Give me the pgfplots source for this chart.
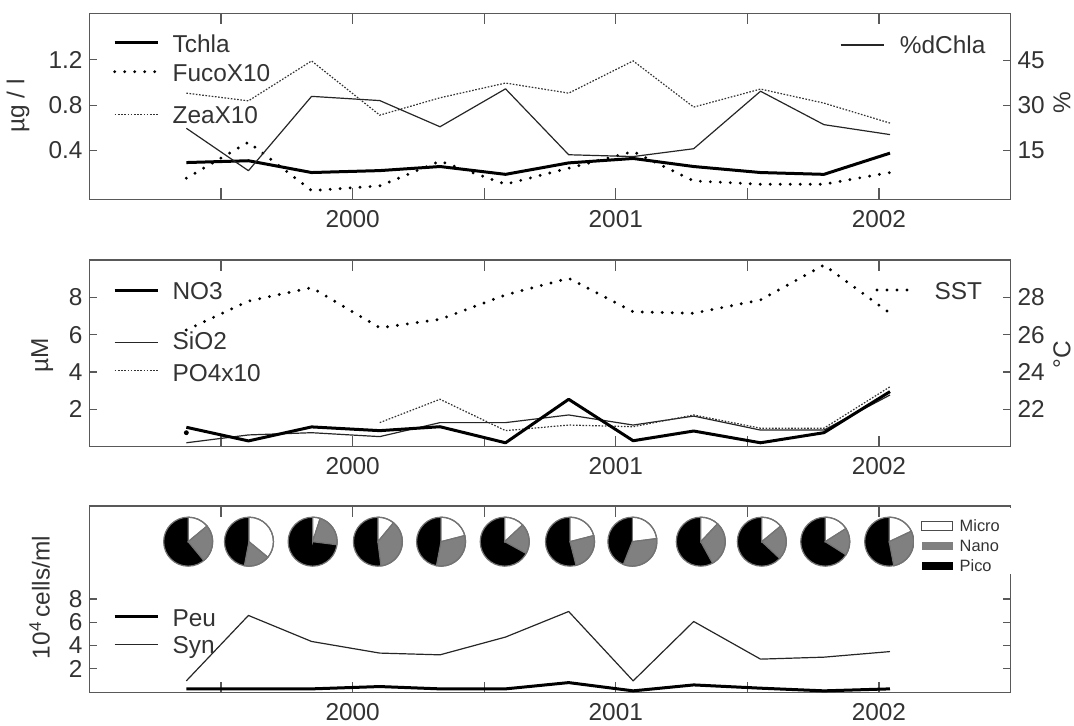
\documentclass[border=0pt]{standalone}
\usepackage{fontspec}
\setmainfont{Liberation Sans}
\usepackage{pgfplots}
\pgfplotsset{compat=1.18}
\newcommand\fs{\fontsize{12.2}{14.6}\selectfont}
\newcommand\fss{\fontsize{8.2}{9.8}\selectfont}
\tikzset{
 thk/.style={black, line width=1.5pt, line join=round},
 thn/.style={black!85, line width=0.6pt, line join=round},
 thkdot/.style={black, line width=1.6pt, line cap=round, dash pattern=on 0pt off 5pt},
 thndot/.style={black!80, line width=0.6pt, dash pattern=on 0.8pt off 0.8pt},
}
\pgfplotsset{
 base/.style={scale only axis, width=460.5pt, anchor=north west,
  xmin=1999, xmax=2002.5,
  xtick={1999.5,2000,2000.5,2001,2001.5,2002},
  xticklabels={,2000,,2001,,2002},
  tick align=inside, xtick pos=both,
  axis line style={black!65, line width=0.65pt},
  tick style={black!65, line width=0.65pt},
  xtick style={/pgfplots/major tick length=5.5pt},
  ytick style={/pgfplots/major tick length=3.75pt},
  ticklabel style={font=\fs, text=black!80},
  xticklabel style={yshift=-2pt},
  /pgf/number format/assume math mode=true},
 sec/.style={base, hide x axis, axis y line*=right}
}
% pie: x, micro %, nano %
\newcommand{\pie}[3]{%
 \fill[black] (axis cs:#1,12.93) circle[radius=12.25pt];
 \filldraw[fill=white,draw=black!55,line width=0.6pt] (axis cs:#1,12.93) -- ++(90:12.25pt) arc[start angle=90,delta angle={-3.6*#2},radius=12.25pt] -- cycle;
 \filldraw[fill=black!50,draw=black!55,line width=0.6pt] (axis cs:#1,12.93) -- ++({90-3.6*#2}:12.25pt) arc[start angle={90-3.6*#2},delta angle={-3.6*#3},radius=12.25pt] -- cycle;
 \draw[black!55,line width=0.6pt] (axis cs:#1,12.93) circle[radius=12.25pt];
}
\begin{document}
\begin{tikzpicture}
\path[use as bounding box] (0,0) rectangle (537pt,-363pt);
% ---------- top panel ----------
\begin{axis}[base, at={(44.75pt,-6.65pt)}, height=93pt,
  ymin=-0.03, ymax=1.61, ytick={0.4,0.8,1.2}, yticklabels={0.4,0.8,1.2}, ytick pos=left]
\addplot[thndot] coordinates {(1999.368,0.906)(1999.604,0.838)(1999.844,1.19)(2000.103,0.712)(2000.332,0.865)(2000.581,0.995)(2000.821,0.906)(2001.066,1.19)(2001.296,0.783)(2001.550,0.942)(2001.791,0.818)(2002.042,0.642)};
\addplot[thkdot] coordinates {(1999.368,0.156)(1999.604,0.474)(1999.844,0.047)(2000.103,0.088)(2000.332,0.306)(2000.581,0.103)(2000.821,0.244)(2001.066,0.391)(2001.296,0.132)(2001.550,0.103)(2001.791,0.103)(2002.042,0.206)};
\addplot[thk] coordinates {(1999.368,0.294)(1999.604,0.31)(1999.844,0.206)(2000.103,0.223)(2000.332,0.259)(2000.581,0.19)(2000.821,0.291)(2001.066,0.33)(2001.296,0.259)(2001.550,0.206)(2001.791,0.19)(2002.042,0.377)};
\end{axis}
\begin{axis}[sec, at={(44.75pt,-6.65pt)}, height=93pt,
  ymin=-1.2, ymax=60.6, ytick={15,30,45}]
\addplot[thn] coordinates {(1999.368,22.4)(1999.604,8.3)(1999.844,33.0)(2000.103,31.6)(2000.332,22.9)(2000.581,35.5)(2000.821,13.6)(2001.066,13.0)(2001.296,15.6)(2001.550,34.7)(2001.791,23.6)(2002.042,20.3)};
\end{axis}
% ---------- middle panel ----------
\begin{axis}[base, at={(44.75pt,-130pt)}, height=93.35pt,
  ymin=0, ymax=10, ytick={2,4,6,8}, ytick pos=left]
\addplot[thn] coordinates {(1999.368,0.21)(1999.604,0.63)(1999.844,0.75)(2000.103,0.54)(2000.332,1.29)(2000.581,1.29)(2000.821,1.70)(2001.066,1.16)(2001.296,1.64)(2001.550,0.89)(2001.791,0.89)(2002.042,2.77)};
\addplot[thndot] coordinates {(2000.103,1.29)(2000.332,2.54)(2000.581,0.86)(2000.821,1.16)(2001.066,1.07)(2001.296,1.70)(2001.550,0.99)(2001.791,0.99)(2002.042,3.21)};
\addplot[only marks, mark=*, mark size=1pt, black] coordinates {(1999.368,0.75)};
\addplot[thk] coordinates {(1999.368,1.04)(1999.604,0.31)(1999.844,1.06)(2000.103,0.86)(2000.332,1.07)(2000.581,0.21)(2000.821,2.54)(2001.066,0.32)(2001.296,0.84)(2001.550,0.21)(2001.791,0.75)(2002.042,2.95)};
\end{axis}
\begin{axis}[sec, at={(44.75pt,-130pt)}, height=93.35pt,
  ymin=20, ymax=30, ytick={22,24,26,28}]
\addplot[thkdot] coordinates {(1999.368,26.25)(1999.604,27.80)(1999.844,28.52)(2000.103,26.37)(2000.332,26.82)(2000.581,28.13)(2000.821,29.02)(2001.066,27.23)(2001.296,27.15)(2001.550,27.86)(2001.791,29.73)(2002.042,27.15)};
\end{axis}
% ---------- bottom panel ----------
\begin{axis}[base, at={(44.75pt,-253pt)}, height=93.35pt,
  ymin=-0.07, ymax=16, ytick={2,4,6,8}, ytick pos=both]
\addplot[thn] coordinates {(1999.368,0.95)(1999.604,6.58)(1999.844,4.34)(2000.103,3.34)(2000.332,3.19)(2000.581,4.72)(2000.821,6.92)(2001.066,0.95)(2001.296,6.06)(2001.550,2.82)(2001.791,2.99)(2002.042,3.47)};
\addplot[thk] coordinates {(1999.368,0.26)(1999.604,0.26)(1999.844,0.26)(2000.103,0.46)(2000.332,0.26)(2000.581,0.26)(2000.821,0.8)(2001.066,0.09)(2001.296,0.6)(2001.550,0.32)(2001.791,0.09)(2002.042,0.26)};
\pie{1999.375}{14}{25}
\pie{1999.606}{36}{17}
\pie{1999.848}{5}{22}
\pie{2000.096}{11}{37}
\pie{2000.336}{21}{32}
\pie{2000.578}{13}{20}
\pie{2000.826}{21}{25}
\pie{2001.063}{23}{33}
\pie{2001.323}{12}{30}
\pie{2001.555}{14}{23}
\pie{2001.796}{16}{18}
\pie{2002.039}{18}{29}
\end{axis}
% ---------- legends and labels (pixel coordinates) ----------
\begin{scope}[x=0.5pt,y=-0.5pt, every node/.style={font=\fs, text=black!80, inner sep=0pt}]
% top
\draw[thk] (114.7,42.7) -- (157.7,42.7);
\node[anchor=base west] at (172.2,52.7) {Tchla};
\draw[thkdot] (114.7,71.7) -- (157.7,71.7);
\node[anchor=base west] at (172.2,81.7) {FucoX10};
\draw[thndot] (114.7,114.3) -- (157.7,114.3);
\node[anchor=base west] at (172.2,123.3) {ZeaX10};
\draw[thn] (840.5,45) -- (883.9,45);
\node[anchor=base west] at (899.5,53.3) {\%dChla};
% middle
\draw[thk] (114.7,290.7) -- (157.7,290.7);
\node[anchor=base west] at (172.2,300) {NO3};
\draw[thn] (114.7,342.3) -- (157.7,342.3);
\node[anchor=base west] at (172.2,350) {SiO2};
\draw[thndot] (114.7,370.7) -- (157.7,370.7);
\node[anchor=base west] at (172.2,381.7) {PO4x10};
\draw[thkdot] (877,290) -- (915.2,290);
\node[anchor=base west] at (934.2,300) {SST};
% bottom
\draw[thk] (114.7,616.7) -- (157.7,616.7);
\node[anchor=base west] at (172.2,626.7) {Peu};
\draw[thn] (114.7,644.3) -- (157.7,644.3);
\node[anchor=base west] at (172.2,653.3) {Syn};
% pie legend
\fill[white] (914,508) rectangle (1013,574);
\draw[black!70,line width=0.6pt,fill=white] (921.7,521.7) rectangle (952.7,530.7);
\fill[black!50] (921.7,541.7) rectangle (952.7,550.3);
\fill[black] (921.7,561.7) rectangle (952.7,570.3);
\node[anchor=base west, font=\fss] at (959.3,531.7) {Micro};
\node[anchor=base west, font=\fss] at (959.3,551.7) {Nano};
\node[anchor=base west, font=\fss] at (959.3,571.7) {Pico};
% axis labels
\node[rotate=90] at (18,105.8) {µg / l};
\node[rotate=90] at (1062,102.5) {\%};
\node[rotate=90] at (42.2,355) {µM};
\node[rotate=90] at (1062,355) {°C};
\node[rotate=90] at (39.6,597.5) {10\textsuperscript{4}\,cells/ml};
\end{scope}
\end{tikzpicture}
\end{document}
